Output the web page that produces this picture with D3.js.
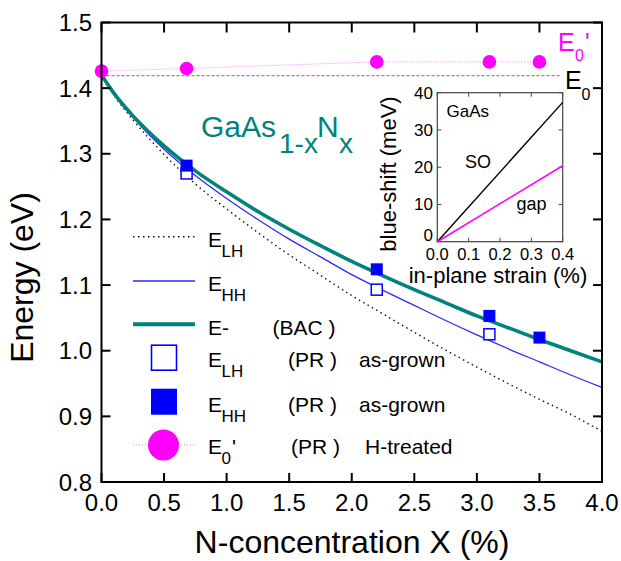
<!DOCTYPE html>
<html><head><meta charset="utf-8">
<script src="https://cdn.jsdelivr.net/npm/d3@7"></script>
<style>body{margin:0;background:#fff}svg{display:block}text{font-family:"Liberation Sans",Arial,sans-serif}</style>
</head><body>
<svg id="c" width="621" height="561"></svg>
<script>
// ---- data ----
const xGrid  = [0, 0.1, 0.25, 0.5, 0.75, 1.0, 1.25, 1.5, 1.75, 2.0, 2.25, 2.5, 2.75, 3.0, 3.25, 3.5, 3.75, 4.0];
const eMinus = [1.420, 1.392, 1.358, 1.312, 1.274, 1.242, 1.212, 1.185, 1.160, 1.136, 1.114, 1.093, 1.073, 1.053, 1.035, 1.017, 1.000, 0.983];
const eHH    = [1.420, 1.391, 1.356, 1.307, 1.267, 1.232, 1.200, 1.170, 1.143, 1.116, 1.092, 1.069, 1.046, 1.024, 1.003, 0.983, 0.963, 0.944];
const eLH    = [1.420, 1.389, 1.352, 1.299, 1.254, 1.216, 1.180, 1.146, 1.115, 1.084, 1.056, 1.028, 1.001, 0.975, 0.950, 0.926, 0.903, 0.877];
const prHHx  = [0.68, 2.2, 3.1, 3.5];
const prHH   = [1.282, 1.124, 1.053, 1.020];
const prLHx  = [0.68, 2.2, 3.1];
const prLH   = [1.270, 1.093, 1.025];
const hX     = [0, 0.68, 2.2, 3.1, 3.5];
const hE0p   = [1.426, 1.430, 1.440, 1.440, 1.440];
const e0X    = [0, 3.66];
const e0Val  = [1.419, 1.419];
const xTicks = [0.0, 0.5, 1.0, 1.5, 2.0, 2.5, 3.0, 3.5, 4.0];
const yTicks = [0.8, 0.9, 1.0, 1.1, 1.2, 1.3, 1.4, 1.5];
// inset
const strain = [0, 0.4];
const soShift = [0, 37.4];
const gapShift = [0, 20.4];
const inXTicks = [0, 0.1, 0.2, 0.3, 0.4];
const inYTicks = [0, 10, 20, 30, 40];

const TEAL = "#00837a", BLUE = "#0000ff", MAG = "#ff00ff";
const svg = d3.select("#c");
const L = 101.5, R = 602, T = 22.5, B = 482;
const x = d3.scaleLinear().domain([0, 4]).range([L, R]);
const y = d3.scaleLinear().domain([0.8, 1.5]).range([B, T]);

// E0 reference line
svg.append("path").datum(e0X.map((v,i)=>[v,e0Val[i]]))
  .attr("d", d3.line().x(d=>x(d[0])).y(d=>y(d[1])))
  .attr("fill","none").attr("stroke","#8a8a8a").attr("stroke-width",1.3).attr("stroke-dasharray","3,2");
// E0' dotted connecting line
svg.append("path").datum(hX.map((v,i)=>[v,hE0p[i]]))
  .attr("d", d3.line().x(d=>x(d[0])).y(d=>y(d[1])))
  .attr("fill","none").attr("stroke","#ff70ff").attr("stroke-width",1).attr("stroke-dasharray","1,2");

const curve = d3.line().x(d=>x(d[0])).y(d=>y(d[1])).curve(d3.curveMonotoneX);
svg.append("path").datum(xGrid.map((v,i)=>[v,eLH[i]])).attr("d",curve)
  .attr("fill","none").attr("stroke","#111").attr("stroke-width",1.4).attr("stroke-dasharray","1.5,3.5");
svg.append("path").datum(xGrid.map((v,i)=>[v,eHH[i]])).attr("d",curve)
  .attr("fill","none").attr("stroke","#2a2aff").attr("stroke-width",1.3);
svg.append("path").datum(xGrid.map((v,i)=>[v,eMinus[i]])).attr("d",curve)
  .attr("fill","none").attr("stroke",TEAL).attr("stroke-width",3.6);

// markers
svg.selectAll(".olh").data(prLHx.map((v,i)=>[v,prLH[i]])).enter().append("rect")
  .attr("x",d=>x(d[0])-5.5).attr("y",d=>y(d[1])-5.5).attr("width",11).attr("height",11)
  .attr("fill","#fff").attr("stroke",BLUE).attr("stroke-width",1.5);
svg.selectAll(".fhh").data(prHHx.map((v,i)=>[v,prHH[i]])).enter().append("rect")
  .attr("x",d=>x(d[0])-6).attr("y",d=>y(d[1])-6).attr("width",12).attr("height",12)
  .attr("fill",BLUE);
svg.selectAll(".hc").data(hX.map((v,i)=>[v,hE0p[i]])).enter().append("circle")
  .attr("cx",d=>x(d[0])).attr("cy",d=>y(d[1])).attr("r",6.8).attr("fill",MAG);

// frame & ticks
svg.append("rect").attr("x",L).attr("y",T).attr("width",R-L).attr("height",B-T)
  .attr("fill","none").attr("stroke","#000").attr("stroke-width",2);
xTicks.forEach(t=>{
  svg.append("line").attr("x1",x(t)).attr("x2",x(t)).attr("y1",B).attr("y2",B-9).attr("stroke","#000").attr("stroke-width",2);
  svg.append("line").attr("x1",x(t)).attr("x2",x(t)).attr("y1",T).attr("y2",T+10).attr("stroke","#000").attr("stroke-width",2);
  svg.append("text").attr("x",x(t)).attr("y",511).attr("text-anchor","middle").attr("font-size",24).text(d3.format(".1f")(t));
});
yTicks.forEach(t=>{
  svg.append("line").attr("x1",L).attr("x2",L+9).attr("y1",y(t)).attr("y2",y(t)).attr("stroke","#000").attr("stroke-width",2);
  svg.append("line").attr("x1",R).attr("x2",R-9).attr("y1",y(t)).attr("y2",y(t)).attr("stroke","#000").attr("stroke-width",2);
  svg.append("text").attr("x",92).attr("y",y(t)+8.5).attr("text-anchor","end").attr("font-size",24).text(d3.format(".1f")(t));
});
svg.append("text").attr("x",352).attr("y",553).attr("text-anchor","middle").attr("font-size",32).text("N-concentration X (%)");
svg.append("text").attr("transform","translate(33,277.5) rotate(-90)").attr("text-anchor","middle").attr("font-size",32).text("Energy (eV)");

// E0' and E0 labels (single texts with subscripts)
const ep = svg.append("text").attr("x",558).attr("y",50.5).attr("font-size",25).attr("fill",MAG);
ep.append("tspan").text("E");
ep.append("tspan").attr("x",575).attr("dy",10).attr("font-size",16).text("0");
ep.append("tspan").attr("x",585).attr("dy",-10).text("'");
const e0t = svg.append("text").attr("x",565).attr("y",89).attr("font-size",25).attr("fill","#000");
e0t.append("tspan").text("E");
e0t.append("tspan").attr("x",581.5).attr("dy",11).attr("font-size",16).text("0");

// GaAs1-xNx label
svg.append("text").attr("x",201).attr("y",136.7).attr("font-size",30).attr("fill",TEAL).text("GaAs");
svg.append("text").attr("x",279).attr("y",153.3).attr("font-size",28).attr("fill",TEAL).text("1-x");
svg.append("text").attr("x",317).attr("y",136.7).attr("font-size",30).attr("fill",TEAL).text("N");
svg.append("text").attr("x",339).attr("y",153.3).attr("font-size",28).attr("fill",TEAL).text("x");

// legend
const lg = svg.append("g");
const lx1 = 133, lx2 = 195, lc = 164, tx = 208;
function eLabel(yb, sub){
  lg.append("text").attr("x",tx).attr("y",yb).attr("font-size",21).text("E");
  lg.append("text").attr("x",tx+13.5).attr("y",yb+10).attr("font-size",17).text(sub);
}
lg.append("line").attr("x1",lx1).attr("x2",lx2).attr("y1",236.7).attr("y2",236.7).attr("stroke","#111").attr("stroke-width",1.4).attr("stroke-dasharray","1.5,3.5");
eLabel(247,"LH");
lg.append("line").attr("x1",lx1).attr("x2",lx2).attr("y1",281).attr("y2",281).attr("stroke","#2a2aff").attr("stroke-width",1.3);
eLabel(291,"HH");
lg.append("line").attr("x1",lx1).attr("x2",lx2).attr("y1",324.3).attr("y2",324.3).attr("stroke",TEAL).attr("stroke-width",4);
lg.append("text").attr("x",tx).attr("y",334.5).attr("font-size",21).text("E-");
lg.append("text").attr("x",272.5).attr("y",334.5).attr("font-size",21).text("(BAC )");
lg.append("rect").attr("x",lc-12.5).attr("y",357.7-12.5).attr("width",25).attr("height",25).attr("fill","#fff").attr("stroke",BLUE).attr("stroke-width",1.6);
eLabel(367,"LH");
lg.append("text").attr("x",288).attr("y",367).attr("font-size",21).text("(PR )");
lg.append("text").attr("x",359).attr("y",367).attr("font-size",21).text("as-grown");
lg.append("rect").attr("x",lc-13).attr("y",401.7-13).attr("width",26).attr("height",26).attr("fill",BLUE);
eLabel(412,"HH");
lg.append("text").attr("x",288).attr("y",412).attr("font-size",21).text("(PR )");
lg.append("text").attr("x",359).attr("y",412).attr("font-size",21).text("as-grown");
lg.append("line").attr("x1",lx1).attr("x2",lx2).attr("y1",445).attr("y2",445).attr("stroke","#ff70ff").attr("stroke-width",1).attr("stroke-dasharray","1,2");
lg.append("circle").attr("cx",163.5).attr("cy",445).attr("r",15.5).attr("fill",MAG);
const e0l = lg.append("text").attr("x",tx).attr("y",454).attr("font-size",21);
e0l.append("tspan").text("E");
e0l.append("tspan").attr("x",tx+13.5).attr("dy",9.5).attr("font-size",17).text("0");
e0l.append("tspan").attr("x",tx+24).attr("dy",-9.5).text("'");
lg.append("text").attr("x",291).attr("y",454).attr("font-size",21).text("(PR )");
lg.append("text").attr("x",365).attr("y",454).attr("font-size",21).text("H-treated");

// inset
const iL = 437.3, iR = 562.7, iT = 92.7, iB = 241.7;
const ix = d3.scaleLinear().domain([0,0.4]).range([iL,iR]);
const iy = d3.scaleLinear().domain([0,40]).range([iB,iT]);
const ig = svg.append("g");
ig.append("rect").attr("x",iL).attr("y",iT).attr("width",iR-iL).attr("height",iB-iT).attr("fill","#fff").attr("stroke","#444").attr("stroke-width",1.2);
inXTicks.forEach(t=>{
  ig.append("line").attr("x1",ix(t)).attr("x2",ix(t)).attr("y1",iB).attr("y2",iB-4).attr("stroke","#444");
  ig.append("line").attr("x1",ix(t)).attr("x2",ix(t)).attr("y1",iT).attr("y2",iT+4).attr("stroke","#444");
  ig.append("text").attr("x",ix(t)).attr("y",259.5).attr("text-anchor","middle").attr("font-size",16.5).text(d3.format(".1f")(t));
});
inYTicks.forEach(t=>{
  ig.append("line").attr("x1",iL).attr("x2",iL+4).attr("y1",iy(t)).attr("y2",iy(t)).attr("stroke","#444");
  ig.append("line").attr("x1",iR).attr("x2",iR-4).attr("y1",iy(t)).attr("y2",iy(t)).attr("stroke","#444");
  ig.append("text").attr("x",433).attr("y",iy(t)+(t===0?-1:6)).attr("text-anchor","end").attr("font-size",17).text(t);
});
const il = d3.line().x(d=>ix(d[0])).y(d=>iy(d[1]));
ig.append("path").datum(strain.map((v,i)=>[v,soShift[i]])).attr("d",il).attr("stroke","#000").attr("stroke-width",1.4).attr("fill","none");
ig.append("path").datum(strain.map((v,i)=>[v,gapShift[i]])).attr("d",il).attr("stroke",MAG).attr("stroke-width",1.6).attr("fill","none");
ig.append("text").attr("x",446.5).attr("y",116.5).attr("font-size",17).text("GaAs");
ig.append("text").attr("x",465).attr("y",168.3).attr("font-size",18).text("SO");
ig.append("text").attr("x",516.5).attr("y",210).attr("font-size",18).text("gap");
ig.append("text").attr("x",498).attr("y",283).attr("text-anchor","middle").attr("font-size",22).text("in-plane strain (%)");
ig.append("text").attr("transform","translate(396,174) rotate(-90)").attr("text-anchor","middle").attr("font-size",22).text("blue-shift (meV)");
</script>
</body></html>
